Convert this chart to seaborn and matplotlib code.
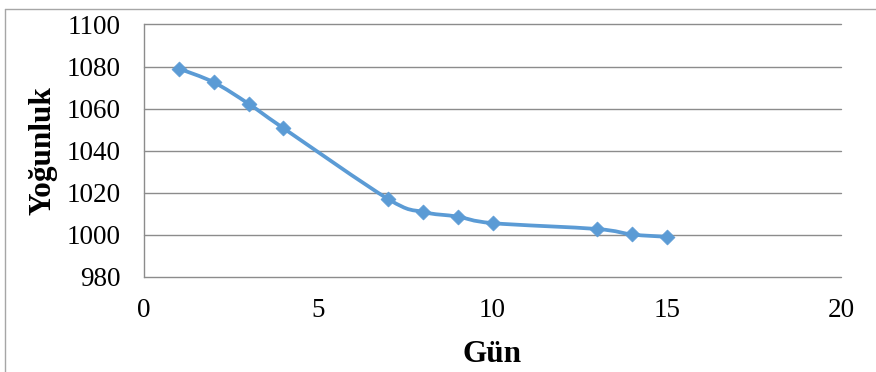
import numpy as np
import pandas as pd
import matplotlib
matplotlib.use("Agg")
import matplotlib.pyplot as plt
from matplotlib.path import Path
from matplotlib.patches import PathPatch
from matplotlib.lines import Line2D
import seaborn as sns

# Density measured over the fermentation days
days = [1, 2, 3, 4, 7, 8, 9, 10, 13, 14, 15]
density = [1079.0, 1072.5, 1062.3, 1050.7, 1017.1, 1010.9, 1008.7, 1005.6, 1002.8, 1000.2, 999.1]

x_ticks = [0, 5, 10, 15, 20]
y_ticks = [980, 1000, 1020, 1040, 1060, 1080, 1100]

x_label = "Gün"
y_label = "Yoğunluk"

line_color = "#5B9BD5"
grid_color = "#8C8C8C"

df = pd.DataFrame({"day": days, "density": density})

sns.set_theme(style="white")
plt.rcParams["font.family"] = ["Liberation Serif", "DejaVu Serif"]
plt.rcParams["text.color"] = "black"

fig = plt.figure(figsize=(8.76, 3.72), dpi=100)
ax = fig.add_axes([144 / 876, 1 - 277 / 372, 697 / 876, 252.6 / 372])

# Smooth connecting curve (Catmull-Rom segments expressed as cubic Beziers)
pts = df[["day", "density"]].to_numpy(dtype=float)
ext = np.vstack([pts[0], pts, pts[-1]])
verts = [tuple(pts[0])]
codes = [Path.MOVETO]
for i in range(1, len(ext) - 2):
    p0, p1, p2, p3 = ext[i - 1], ext[i], ext[i + 1], ext[i + 2]
    c1 = p1 + (p2 - p0) / 6.0
    c2 = p2 - (p3 - p1) / 6.0
    verts += [tuple(c1), tuple(c2), tuple(p2)]
    codes += [Path.CURVE4, Path.CURVE4, Path.CURVE4]
curve = PathPatch(Path(verts, codes), facecolor="none", edgecolor=line_color,
                  linewidth=2.7, capstyle="round", joinstyle="round", zorder=3)
ax.add_patch(curve)

sns.scatterplot(data=df, x="day", y="density", ax=ax, marker="D", s=58,
                color=line_color, edgecolor=line_color, linewidth=0.5, zorder=4,
                legend=False)

ax.set_xlim(x_ticks[0], x_ticks[-1])
ax.set_ylim(y_ticks[0], y_ticks[-1])
ax.set_xticks(x_ticks)
ax.set_yticks(y_ticks)
ax.set_xticklabels([str(t) for t in x_ticks])
ax.set_yticklabels([str(t) for t in y_ticks])

ax.grid(False)
for y in y_ticks:
    ax.axhline(y, color=grid_color, linewidth=1.0, zorder=1, clip_on=False)

for side in ["top", "right", "bottom"]:
    ax.spines[side].set_visible(False)
ax.spines["left"].set_color(grid_color)
ax.spines["left"].set_linewidth(1.0)

ax.tick_params(axis="both", length=0, labelsize=19.5, colors="black")
ax.tick_params(axis="y", pad=17)
ax.tick_params(axis="x", pad=15)

ax.set_xlabel(x_label, fontsize=22.5, fontweight="bold", va="center", color="black")
ax.set_ylabel(y_label, fontsize=22.5, fontweight="bold", va="center", color="black")
ax.xaxis.set_label_coords(0.5, -0.308)
ax.yaxis.set_label_coords(-0.145, 0.5)

# Light frame around the chart area
frame_color = "#A6A6A6"
fig.add_artist(Line2D([4.5 / 876, 4.5 / 876], [1 - 8.5 / 372, -0.05],
                      transform=fig.transFigure, color=frame_color, linewidth=1.0))
fig.add_artist(Line2D([4.5 / 876, 1.05], [1 - 8.5 / 372, 1 - 8.5 / 372],
                      transform=fig.transFigure, color=frame_color, linewidth=1.0))

fig.savefig("out.png", dpi=100, facecolor="white")
